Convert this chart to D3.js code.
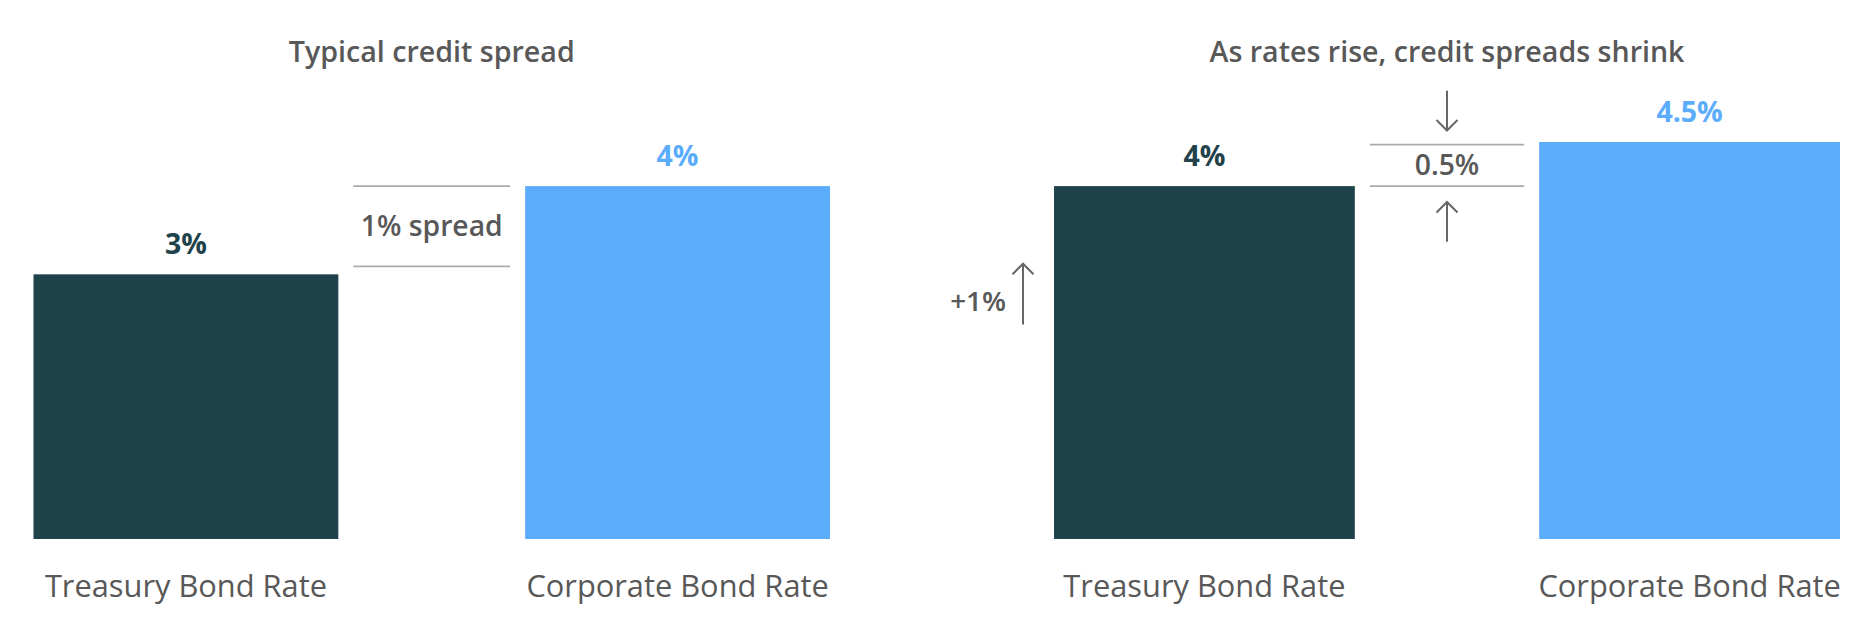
<!DOCTYPE html>
<html>
<head>
<meta charset="utf-8">
<script src="https://cdn.jsdelivr.net/npm/d3@7"></script>
<style>
  body { margin: 0; background: #fff; }
  text { font-family: "Open Sans", Roboto, sans-serif; }
</style>
</head>
<body>
<div id="plot"></div>
<script>
var panelTitles = ["Typical credit spread", "As rates rise, credit spreads shrink"];
var categories = ["Treasury Bond Rate", "Corporate Bond Rate"];
var typicalRates = [3, 4];
var risingRates = [4, 4.5];
var typicalLabels = ["3%", "4%"];
var risingLabels = ["4%", "4.5%"];

// spread brackets between the two bars (value of lower line, upper line)
var spreadLines = [[3.09, 4], [4, 4.47]];
var spreadLabels = ["1% spread", "0.5%"];

// arrows in the second panel (from, to) in rate units
var riseArrow = [2.43, 3.12];
var riseLabel = "+1%";
var squeezeArrows = [[5.08, 4.63], [3.37, 3.82]];

var width = 1875, height = 626;
var darkColor = "#1f424b", lightColor = "#5badfc";
var barColors = [darkColor, lightColor];
var textGray = "#585858";

var svg = d3.select("#plot")
  .append("svg")
  .attr("width", width)
  .attr("height", height);

var y = d3.scaleLinear()
  .domain([0, 4.5])
  .range([539, 142]);

var panels = [
  { title: panelTitles[0], rates: typicalRates, labels: typicalLabels, range: [33.5, 830], spread: spreadLines[0], spreadLabel: spreadLabels[0] },
  { title: panelTitles[1], rates: risingRates, labels: risingLabels, range: [1054, 1840], spread: spreadLines[1], spreadLabel: spreadLabels[1] }
];

panels.forEach(function (p, pi) {
  var x = d3.scaleBand()
    .domain(categories)
    .range(p.range)
    .paddingInner(0.38)
    .paddingOuter(0);

  var g = svg.append("g");
  var cx = (p.range[0] + p.range[1]) / 2;

  g.append("text")
    .attr("x", cx)
    .attr("y", 62)
    .attr("text-anchor", "middle")
    .style("font-size", "28.6px")
    .style("font-weight", 600)
    .style("fill", textGray)
    .text(p.title);

  g.selectAll("rect.bar")
    .data(categories)
    .enter().append("rect")
    .attr("class", "bar")
    .attr("x", function (d) { return x(d); })
    .attr("y", function (d, i) { return y(p.rates[i]); })
    .attr("width", x.bandwidth())
    .attr("height", function (d, i) { return y(0) - y(p.rates[i]); })
    .style("fill", function (d, i) { return barColors[i]; });

  g.selectAll("text.value")
    .data(categories)
    .enter().append("text")
    .attr("class", "value")
    .attr("x", function (d) { return x(d) + x.bandwidth() / 2; })
    .attr("y", function (d, i) { return y(p.rates[i]) - 20; })
    .attr("text-anchor", "middle")
    .style("font-size", "28.5px")
    .style("font-weight", 700)
    .style("fill", function (d, i) { return barColors[i]; })
    .text(function (d, i) { return p.labels[i]; });

  g.selectAll("text.cat")
    .data(categories)
    .enter().append("text")
    .attr("class", "cat")
    .attr("x", function (d) { return x(d) + x.bandwidth() / 2; })
    .attr("y", 597)
    .attr("text-anchor", "middle")
    .style("font-size", "30.8px")
    .style("fill", textGray)
    .text(function (d) { return d; });

  // spread bracket
  var lx0 = x(categories[0]) + x.bandwidth() + 15;
  var lx1 = x(categories[1]) - 15;
  g.selectAll("line.spread")
    .data(p.spread)
    .enter().append("line")
    .attr("class", "spread")
    .attr("x1", lx0)
    .attr("x2", lx1)
    .attr("y1", function (d) { return y(d); })
    .attr("y2", function (d) { return y(d); })
    .style("stroke", "#ababab")
    .style("stroke-width", 1.6);

  var midY = (y(p.spread[0]) + y(p.spread[1])) / 2;
  g.append("text")
    .attr("x", (lx0 + lx1) / 2)
    .attr("y", midY + 10)
    .attr("text-anchor", "middle")
    .style("font-size", "28.3px")
    .style("font-weight", 600)
    .style("fill", textGray)
    .text(p.spreadLabel);

  if (pi == 1) {
    var ax = x(categories[0]) - 31;
    drawArrow(g, ax, riseArrow[0], riseArrow[1]);
    g.append("text")
      .attr("x", ax - 17)
      .attr("y", 311)
      .attr("text-anchor", "end")
      .style("font-size", "27.8px")
      .style("font-weight", 600)
      .style("fill", textGray)
      .text(riseLabel);

    squeezeArrows.forEach(function (a) {
      drawArrow(g, (lx0 + lx1) / 2, a[0], a[1]);
    });
  }
});

function drawArrow(g, ax, from, to) {
  var y0 = y(from), y1 = y(to);
  var dir = y1 < y0 ? 1 : -1;
  var path = d3.path();
  path.moveTo(ax, y0);
  path.lineTo(ax, y1);
  path.moveTo(ax - 10.5, y1 + dir * 10.5);
  path.lineTo(ax, y1);
  path.lineTo(ax + 10.5, y1 + dir * 10.5);
  g.append("path")
    .attr("d", path.toString())
    .style("fill", "none")
    .style("stroke", "#666")
    .style("stroke-width", 2);
}
</script>
</body>
</html>
